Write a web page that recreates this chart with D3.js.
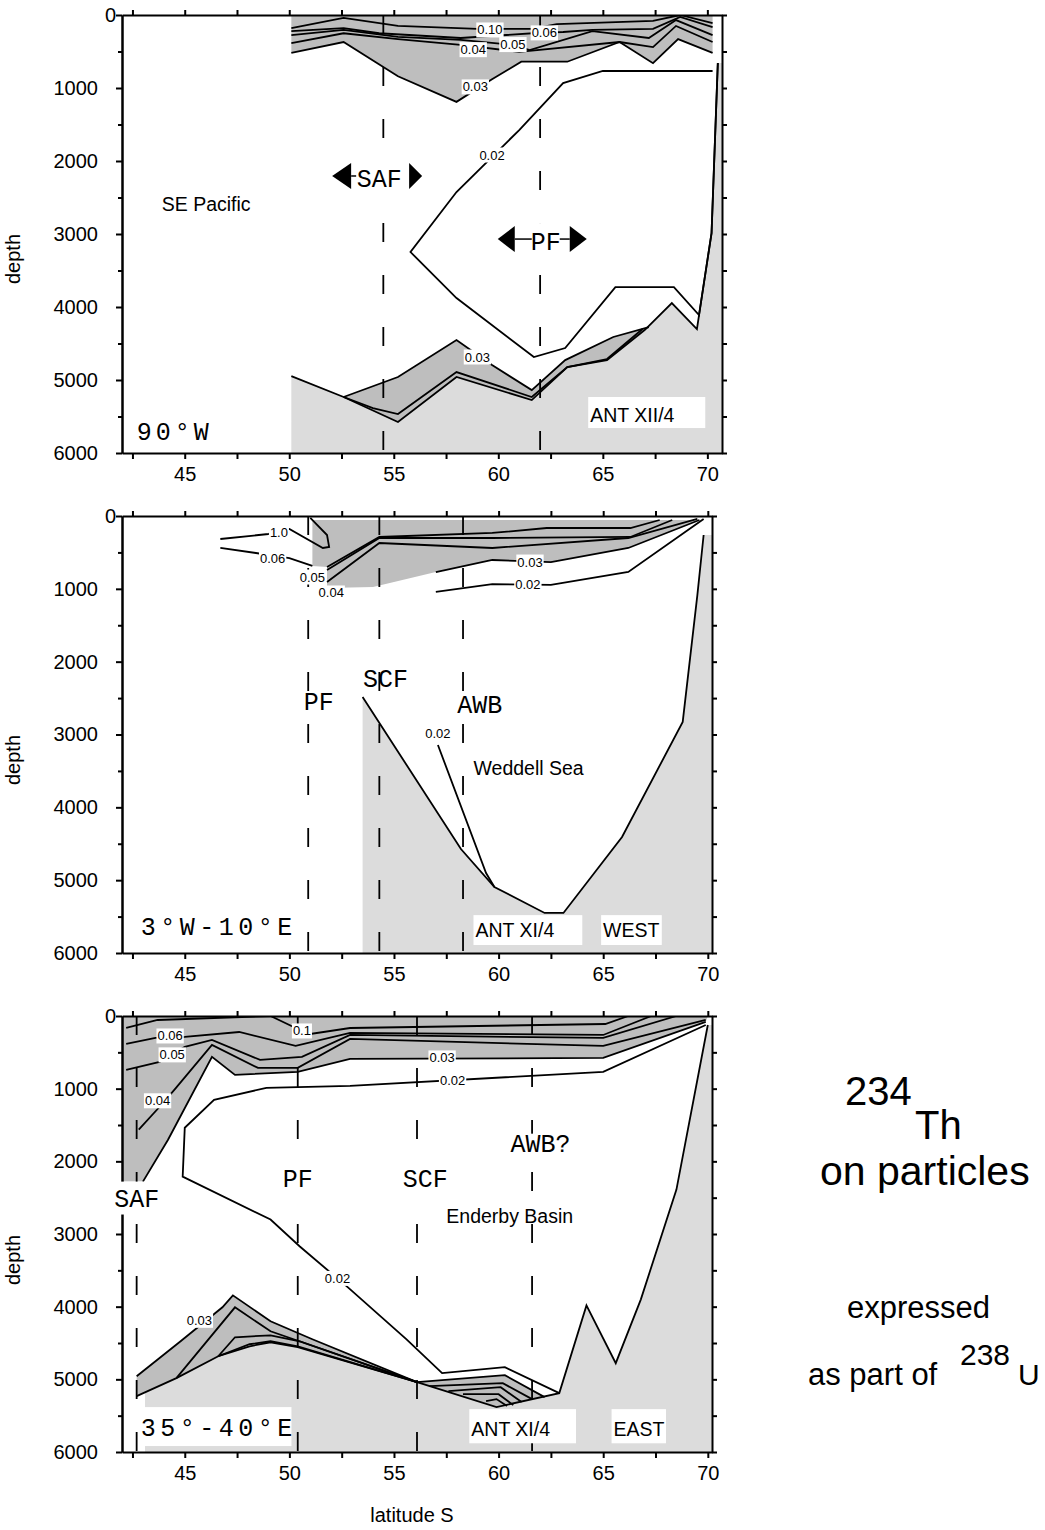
<!DOCTYPE html>
<html>
<head>
<meta charset="utf-8">
<script src="https://cdn.jsdelivr.net/npm/d3@7"></script>
<style>
  body { margin: 0; background: #fff; }
  text { font-family: Arial, "Liberation Sans", sans-serif; }
  .mono { font-family: "Courier New", "Liberation Mono", monospace; }
</style>
</head>
<body>
<svg id="chart" width="1045" height="1530"></svg>
<script>
// ---- shared axis values ----
const latTicks = d3.range(42.5, 70.01, 2.5);
const latLabels = [45, 50, 55, 60, 65, 70];
const depthMajor = d3.range(0, 6001, 1000);
const depthMinor = d3.range(500, 6000, 1000);
const depthAll = d3.range(0, 6001, 500);

// ---- panel 1 : 90°W, SE Pacific (lat S, depth m) ----
const p1_c010 = [[50.1,180],[52.6,40],[55.2,150],[59.0,190],[61.6,190],[62.8,125],[67.4,80],[68.7,0],[70.25,110]];
const p1_c006 = [[50.1,220],[52.6,180],[54.3,250],[58.2,315],[62.2,240],[63.1,233],[64.5,205],[67.4,190],[68.7,27],[70.25,165]];
const p1_c005 = [[50.1,275],[52.6,205],[55.2,300],[58.2,340],[60.7,410],[61.5,480],[64.5,220],[67.2,315],[68.5,70],[70.25,275]];
const p1_c004 = [[50.1,385],[52.6,250],[55.2,330],[58.2,410],[61.0,505],[65.8,370],[67.4,440],[68.5,150],[70.25,370]];
const p1_c003 = [[50.1,520],[52.6,370],[55.2,840],[58.0,1190],[59.7,880],[61.1,640],[63.3,640],[65.8,370],[67.4,660],[68.6,330],[70.25,520]];
const p1_c002 = [[70.25,767],[65.0,767],[63.1,932],[61.0,1576],[58.0,2425],[55.8,3247],[58.0,3877],[61.7,4685],[63.2,4562],[65.6,3727],[68.4,3727],[69.6,4110],[70.2,2987],[70.5,658]];
const p1_b003 = [[52.6,5233],[55.2,4959],[58.0,4453],[59.7,4795],[61.6,5138],[63.2,4727],[65.5,4411],[67.2,4275]];
const p1_b004 = [[52.6,5233],[54.0,5384],[55.2,5466],[58.0,4891],[61.6,5233],[63.3,4822],[65.2,4713],[66.9,4302]];
const p1_seafloor = [[50.1,4946],[52.6,5233],[55.2,5576],[58.0,4959],[61.6,5275],[63.3,4822],[65.2,4727],[67.0,4316],[68.3,3946],[69.5,4302],[70.2,2987],[70.5,658]];
const p1_labels = [
  {t:"0.10",lat:59.6,depth:205},{t:"0.06",lat:62.2,depth:245},{t:"0.05",lat:60.7,depth:405},
  {t:"0.04",lat:58.8,depth:475},{t:"0.03",lat:58.9,depth:985},{t:"0.02",lat:59.7,depth:1918},
  {t:"0.03",lat:59.0,depth:4685}
];
const p1_fronts = [54.5, 62.0];

// ---- panel 2 : 3°W-10°E, Weddell Sea ----
const p2_c10 = [[46.7,316],[49.0,247],[50.0,178],[51.6,439],[51.9,425],[51.8,261],[51.0,27]];
const p2_c006a = [[46.7,439],[48.4,508],[50.0,577],[51.1,686]];
const p2_c006b = [[51.8,700],[54.3,288],[59.7,233],[62.3,165],[66.3,165],[67.7,55]];
const p2_c005 = [[51.8,741],[54.3,302],[59.7,302],[66.3,288],[68.3,55]];
const p2_c004 = [[51.8,906],[54.3,371],[59.7,439],[66.2,302],[69.5,41]];
const p2_c003 = [[57.0,769],[59.7,604],[62.5,632],[66.2,439],[69.6,55]];
const p2_c002 = [[57.0,1043],[59.7,934],[62.5,947],[66.2,769],[69.8,41]];
const p2_c002low = [[57.1,3144],[59.4,4902],[59.8,5094]];
const p2_seafloor = [[53.5,2485],[58.2,4572],[59.8,5094],[62.2,5450],[63.1,5450],[65.9,4407],[68.8,2828],[69.5,1085],[69.8,261]];
const p2_labels = [
  {t:"1.0",lat:49.5,depth:233},{t:"0.06",lat:49.2,depth:577},{t:"0.05",lat:51.1,depth:838},
  {t:"0.04",lat:52.0,depth:1057},{t:"0.03",lat:61.5,depth:632},{t:"0.02",lat:61.4,depth:947},
  {t:"0.02",lat:57.1,depth:2993}
];
const p2_fronts = [50.9, 54.3, 58.3];

// ---- panel 3 : 35°-40°E, Enderby Basin ----
const p3_c01 = [[42.2,165],[43.7,55],[49.1,0],[50.3,165],[51.0,247],[52.9,165],[65.1,110],[66.2,0]];
const p3_c006 = [[42.2,384],[43.6,302],[45.0,288],[47.6,220],[50.3,412],[52.9,233],[65.0,261],[67.3,0]];
const p3_c005 = [[42.2,741],[43.8,632],[45.0,426],[46.3,330],[48.6,604],[50.6,563],[52.9,261],[65.0,302],[68.5,0]];
const p3_c004 = [[42.8,1565],[43.8,1249],[44.5,1016],[46.3,398],[48.5,714],[50.4,714],[52.9,316],[65.0,412],[69.9,55]];
const p3_c003 = [[43.0,2279],[44.2,1703],[46.3,563],[47.4,810],[50.4,769],[52.9,590],[65.0,577],[69.9,82]];
const p3_c002 = [[69.9,124],[65.0,769],[52.9,961],[48.9,989],[46.4,1153],[45.0,1538],[44.9,2211],[49.1,2801],[50.5,3172],[52.8,3735],[55.6,4449],[57.3,4915],[60.3,4833],[62.9,5190]];
const p3_b003 = [[42.7,4957],[44.8,4476],[46.8,4009],[47.3,3844],[49.1,4201],[51.1,4449],[56.1,5039]];
const p3_b004 = [[44.6,4984],[47.4,4009],[49.1,4339],[56.1,5039]];
const p3_b005 = [[46.6,4682],[47.4,4421],[49.1,4394],[50.5,4476],[56.1,5039]];
const p3_b006 = [[46.6,4682],[48.1,4545],[49.1,4490],[50.4,4558],[56.1,5039]];
const p3_r_top = [[56.1,5039],[60.3,4943],[62.2,5245]];
const p3_r1 = [[56.7,5094],[60.2,5053],[61.6,5272]];
const p3_r2 = [[57.6,5163],[60.1,5108],[61.1,5313]];
const p3_r3 = [[58.3,5204],[60.0,5204],[60.7,5355]];
const p3_r4 = [[59.4,5300],[59.9,5272],[60.4,5368]];
const p3_seafloor = [[42.7,5231],[44.6,4984],[46.6,4682],[48.1,4517],[49.1,4476],[50.4,4545],[56.1,5039],[59.9,5382],[62.9,5190],[64.2,3982],[65.6,4778],[66.8,3899],[68.5,2389],[70.0,124]];
const p3_labels = [
  {t:"0.1",lat:50.6,depth:206},{t:"0.06",lat:44.3,depth:275},{t:"0.05",lat:44.4,depth:535},
  {t:"0.04",lat:43.7,depth:1167},{t:"0.03",lat:57.3,depth:577},{t:"0.02",lat:57.8,depth:892},
  {t:"0.02",lat:52.3,depth:3611},{t:"0.03",lat:45.7,depth:4188}
];
const p3_fronts = [42.7, 50.4, 56.1, 61.6];

const LIGHT = "#dcdcdc", DARK = "#bebebe";
const svg = d3.select("#chart");

// text with a white box behind it
function boxedText(g, x, y, t, size, opts) {
  opts = opts || {};
  const grp = g.append("g");
  const txt = grp.append("text").attr("x", x).attr("y", y)
    .attr("text-anchor", opts.anchor || "middle")
    .attr("font-size", size).text(t);
  if (opts.central !== false) txt.attr("dominant-baseline", "central");
  if (opts.cls) txt.attr("class", opts.cls);
  const b = txt.node().getBBox();
  const pad = opts.pad || 1;
  grp.insert("rect", "text").attr("x", b.x - pad).attr("y", b.y + (opts.trim || 0))
    .attr("width", b.width + 2 * pad).attr("height", b.height - 2 * (opts.trim || 0)).attr("fill", "#fff");
  return grp;
}

function drawPanel(cfg) {
  const x = d3.scaleLinear().domain([42, cfg.latMax]).range([122, cfg.right]);
  const y = d3.scaleLinear().domain([0, 6000]).range([cfg.top, cfg.bottom]);
  const line = d3.line().x(d => x(d[0])).y(d => y(d[1]));
  const g = svg.append("g");

  svg.append("clipPath").attr("id", "clip" + cfg.id).append("rect")
    .attr("x", 122).attr("y", cfg.top).attr("width", cfg.right - 122).attr("height", cfg.bottom - cfg.top);
  const plot = g.append("g").attr("clip-path", `url(#clip${cfg.id})`);

  cfg.light.forEach(p => plot.append("path").attr("d", line(p) + "Z").attr("fill", LIGHT));
  cfg.dark.forEach(p => plot.append("path").attr("d", line(p) + "Z").attr("fill", DARK));
  cfg.lines.forEach(l => plot.append("path").attr("d", line(l))
    .attr("fill", "none").attr("stroke", "#000").attr("stroke-width", 1.8));

  cfg.labels.forEach(l => boxedText(g, x(l.lat), y(l.depth), l.t, 13));

  cfg.fronts.forEach(f => plot.append("line")
    .attr("x1", x(f)).attr("x2", x(f)).attr("y1", cfg.top).attr("y2", cfg.bottom)
    .attr("stroke", "#000").attr("stroke-width", 1.8).attr("stroke-dasharray", "19,33"));

  // axes
  const ax = (sel) => sel.attr("font-size", 20).attr("font-family", "Arial, Liberation Sans, sans-serif")
    .call(s => s.selectAll("path,line").attr("stroke", "#000").attr("stroke-width", 2));
  g.append("g").attr("transform", `translate(0,${cfg.bottom})`)
    .call(d3.axisBottom(x).tickValues(latTicks).tickSize(6).tickSizeOuter(0).tickPadding(8)
      .tickFormat(d => latLabels.includes(d) ? d : "")).call(ax);
  g.append("g").attr("transform", `translate(0,${cfg.top})`)
    .call(d3.axisTop(x).tickValues(latTicks).tickSize(5).tickSizeOuter(0).tickFormat("")).call(ax);
  const left = g.append("g").attr("transform", "translate(122,0)")
    .call(d3.axisLeft(y).tickValues(depthMajor).tickSize(6).tickSizeOuter(0).tickPadding(18)
      .tickFormat(d3.format("d"))).call(ax);
  left.selectAll(".tick text").filter(d => d === 0).attr("x", -6);
  g.append("g").attr("transform", "translate(122,0)")
    .call(d3.axisLeft(y).tickValues(depthMinor).tickSize(4).tickSizeOuter(0).tickFormat("")).call(ax);
  g.append("g").attr("transform", `translate(${cfg.right},0)`)
    .call(d3.axisRight(y).tickValues(depthAll).tickSize(5).tickSizeOuter(0).tickFormat("")).call(ax);

  g.append("text").attr("transform", `translate(20,${cfg.top + 244}) rotate(-90)`)
    .attr("text-anchor", "middle").attr("font-size", 20).text("depth");

  return {g, x, y};
}

function frontLabel(g, x, y, f, boxed) {
  if (boxed) {
    boxedText(g, x(f.lat), y(f.depth), f.t, 25, {cls: "mono", central: false, pad: 2, trim: 3});
  } else {
    g.append("text").attr("class", "mono").attr("x", x(f.lat)).attr("y", y(f.depth))
      .attr("text-anchor", "middle").attr("font-size", 25).text(f.t);
  }
}

// ---- panel 1 ----
(function () {
  const {g, x, y} = drawPanel({
    id: 1, top: 15, bottom: 453, right: 722, latMax: 70.7,
    light: [[...p1_seafloor, [70.7, 658], [70.7, 6000], [50.1, 6000]]],
    dark: [
      [[50.1, 0], [70.25, 0], ...p1_c003.slice().reverse()],
      [...p1_b003, ...p1_seafloor.filter(d => d[0] >= 52.6 && d[0] <= 67.2).reverse()]
    ],
    lines: [p1_c010, p1_c006, p1_c005, p1_c004, p1_c003, p1_c002, p1_b003, p1_b004, p1_seafloor],
    labels: p1_labels, fronts: p1_fronts
  });
  g.append("text").attr("x", x(43.9)).attr("y", y(2685)).attr("font-size", 19.5).text("SE Pacific");
  g.append("text").attr("class", "mono").attr("x", x(42.7)).attr("y", y(5822))
    .attr("font-size", 25).attr("letter-spacing", 4).text("90°W");
  g.append("rect").attr("x", x(64.3)).attr("y", y(5233)).attr("width", x(69.9) - x(64.3))
    .attr("height", y(5658) - y(5233)).attr("fill", "#fff");
  g.append("text").attr("x", x(64.4)).attr("y", y(5576)).attr("font-size", 19.5).text("ANT XII/4");

  // fronts with arrows
  const arrows = [{t: "SAF", lat: 54.3, depth: 2356, l: [-47, -28, -23], r: [30, 43, 30]},
                  {t: "PF", lat: 62.27, depth: 3220, l: [-48, -31, -14], r: [24, 41, 14]}];
  arrows.forEach(a => {
    const cx = x(a.lat), by = y(a.depth), cy = by - 11;
    g.append("rect").attr("x", cx + a.l[0]).attr("y", cy - 16).attr("width", a.r[1] - a.l[0])
      .attr("height", 32).attr("fill", "#fff");
    g.append("text").attr("class", "mono").attr("x", cx).attr("y", by)
      .attr("text-anchor", "middle").attr("font-size", 25).text(a.t);
    g.append("path").attr("d", `M${cx + a.l[0]},${cy}L${cx + a.l[1]},${cy - 13}L${cx + a.l[1]},${cy + 13}Z`).attr("fill", "#000");
    g.append("path").attr("d", `M${cx + a.r[1]},${cy}L${cx + a.r[0]},${cy - 13}L${cx + a.r[0]},${cy + 13}Z`).attr("fill", "#000");
    g.append("line").attr("x1", cx + a.l[1]).attr("x2", cx + a.l[2]).attr("y1", cy).attr("y2", cy)
      .attr("stroke", "#000").attr("stroke-width", 1.5);
    g.append("line").attr("x1", cx + a.r[2]).attr("x2", cx + a.r[0]).attr("y1", cy).attr("y2", cy)
      .attr("stroke", "#000").attr("stroke-width", 1.5);
  });
})();

// ---- panel 2 ----
(function () {
  const {g, x, y} = drawPanel({
    id: 2, top: 516, bottom: 953, right: 712, latMax: 70.2,
    light: [[[53.5, 6000], ...p2_seafloor, [70.2, 261], [70.2, 6000]]],
    dark: [[[51.1, 55], [69.6, 55], ...p2_c003.slice().reverse(), [54.0, 975], [51.8, 989], [51.8, 700], [51.1, 686]]],
    lines: [p2_c10, p2_c006a, p2_c006b, p2_c005, p2_c004, p2_c003, p2_c002, p2_c002low, p2_seafloor],
    labels: p2_labels, fronts: p2_fronts
  });
  frontLabel(g, x, y, {t: "PF", lat: 51.4, depth: 2664}, true);
  frontLabel(g, x, y, {t: "SCF", lat: 54.6, depth: 2348}, false);
  frontLabel(g, x, y, {t: "AWB", lat: 59.1, depth: 2705}, true);
  g.append("text").attr("x", x(58.8)).attr("y", y(3556)).attr("font-size", 19.5).text("Weddell Sea");
  g.append("text").attr("class", "mono").attr("x", x(42.9)).attr("y", y(5753))
    .attr("font-size", 25).attr("letter-spacing", 4.5).text("3°W-10°E");
  [{t: "ANT XI/4", a: 58.8, b: 64.0}, {t: "WEST", a: 64.9, b: 67.8}].forEach(s => {
    g.append("rect").attr("x", x(s.a)).attr("y", y(5480)).attr("width", x(s.b) - x(s.a))
      .attr("height", y(5890) - y(5480)).attr("fill", "#fff");
    g.append("text").attr("x", x(s.a) + 2).attr("y", y(5780)).attr("font-size", 19.5).text(s.t);
  });
})();

// ---- panel 3 ----
(function () {
  const {g, x, y} = drawPanel({
    id: 3, top: 1016, bottom: 1452, right: 712, latMax: 70.2,
    light: [[[43.1, 6000], [43.1, 5179], ...p3_seafloor.slice(1), [70.2, 124], [70.2, 6000]]],
    dark: [
      [[42, 0], [70.0, 0], ...p3_c003.slice().reverse(), [42, 2279]],
      [...p3_b003, ...p3_seafloor.filter(d => d[0] <= 56.1).reverse()],
      [...p3_r_top, [62.2, 5235], [59.9, 5382], [56.1, 5039]]
    ],
    lines: [p3_c01, p3_c006, p3_c005, p3_c004, p3_c003, p3_c002, p3_b003, p3_b004, p3_b005, p3_b006,
            p3_r_top, p3_r1, p3_r2, p3_r3, p3_r4, p3_seafloor],
    labels: p3_labels, fronts: p3_fronts
  });
  frontLabel(g, x, y, {t: "PF", lat: 50.4, depth: 2348}, true);
  frontLabel(g, x, y, {t: "SCF", lat: 56.5, depth: 2348}, true);
  frontLabel(g, x, y, {t: "AWB?", lat: 62.0, depth: 1867}, true);
  g.append("rect").attr("x", x(41.4)).attr("y", y(2279)).attr("width", x(44.1) - x(41.4))
    .attr("height", y(2732) - y(2279)).attr("fill", "#fff");
  g.append("text").attr("class", "mono").attr("x", x(42.7)).attr("y", y(2622))
    .attr("text-anchor", "middle").attr("font-size", 25).text("SAF");
  g.append("text").attr("x", x(57.5)).attr("y", y(2842)).attr("font-size", 19.5).text("Enderby Basin");
  [{t: "ANT XI/4", a: 58.6, b: 63.7}, {t: "EAST", a: 65.4, b: 68.0}].forEach(s => {
    g.append("rect").attr("x", x(s.a)).attr("y", y(5410)).attr("width", x(s.b) - x(s.a))
      .attr("height", y(5880) - y(5410)).attr("fill", "#fff");
    g.append("text").attr("x", x(s.a) + 2).attr("y", y(5780)).attr("font-size", 19.5).text(s.t);
  });
  g.append("rect").attr("x", x(43.1)).attr("y", y(5382)).attr("width", x(50.1) - x(43.1))
    .attr("height", y(5918) - y(5382)).attr("fill", "#fff");
  g.append("text").attr("class", "mono").attr("x", x(42.9)).attr("y", y(5780))
    .attr("font-size", 25).attr("letter-spacing", 4.5).text("35°-40°E");
  g.append("text").attr("x", 412).attr("y", 1522).attr("text-anchor", "middle").attr("font-size", 20).text("latitude S");
})();

// ---- side legend text ----
const side = svg.append("g");
[{t: "234", x: 845, y: 1105, s: 40}, {t: "Th", x: 915, y: 1139, s: 40}, {t: "on particles", x: 820, y: 1185, s: 41},
 {t: "expressed", x: 847, y: 1318, s: 31}, {t: "as part of", x: 808, y: 1385, s: 31},
 {t: "238", x: 960, y: 1365, s: 30}, {t: "U", x: 1018, y: 1385, s: 30}]
  .forEach(d => side.append("text").attr("x", d.x).attr("y", d.y).attr("font-size", d.s).text(d.t));
</script>
</body>
</html>
